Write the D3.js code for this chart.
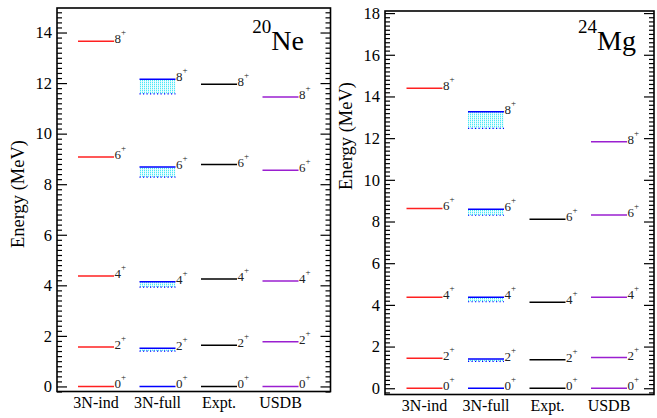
<!DOCTYPE html>
<html><head><meta charset="utf-8">
<script src="https://cdn.jsdelivr.net/npm/d3@7"></script>
<style>body{margin:0;background:#fff}</style>
</head><body><svg id="c" width="657" height="418" style="font-family:'Liberation Serif',serif"></svg>
<script>
// ---- data ----
const models = ["3N-ind", "3N-full", "Expt.", "USDB"];
const spins = ["0", "2", "4", "6", "8"];
const neInd    = [0, 1.56, 4.37, 9.08, 13.65];
const neFullHi = [0, 1.51, 4.14, 8.68, 12.15];
const neFullLo = [0, 1.40, 3.93, 8.28, 11.57];
const neExpt   = [0, 1.634, 4.248, 8.777, 11.951];
const neUsdb   = [0, 1.77, 4.17, 8.55, 11.45];
const mgInd    = [0, 1.44, 4.36, 8.63, 14.39];
const mgFullHi = [0, 1.40, 4.36, 8.59, 13.27];
const mgFullLo = [0, 1.29, 4.15, 8.30, 12.47];
const mgExpt   = [0, 1.369, 4.123, 8.113];
const mgUsdb   = [0, 1.47, 4.36, 8.31, 11.83];
const neTicks = [0, 2, 4, 6, 8, 10, 12, 14];
const mgTicks = [0, 2, 4, 6, 8, 10, 12, 14, 16, 18];

const FF = "'Liberation Serif', 'DejaVu Serif', serif";
const svg = d3.select("#c");
const defs = svg.append("defs");
const pat = defs.append("pattern").attr("id", "hatch").attr("patternUnits", "userSpaceOnUse")
  .attr("width", 2).attr("height", 2);
pat.append("rect").attr("width", 2).attr("height", 2).attr("fill", "#f0feff");
pat.append("rect").attr("x", 0).attr("y", 0).attr("width", 1).attr("height", 1.3).attr("fill", "#4ae8f6");

const colors = {"3N-ind": "#ff2020", "3N-full": "#0000ff", "Expt.": "#000000", "USDB": "#9a1fd0"};

function panel(opt) {
  const g = svg.append("g");
  const y = d3.scaleLinear().domain(opt.ydom).range([opt.bottom, opt.top]);
  const x = d3.scalePoint().domain(models).range([opt.left + opt.c0, opt.left + opt.c0 + 184.5]);
  const hw = 18;

  const minor = d3.range(Math.ceil(opt.ydom[0] / 0.2) * 0.2, opt.ydom[1] + 1e-6, 0.2)
    .filter(v => Math.abs(v / 2 - Math.round(v / 2)) > 1e-6);
  g.append("g").attr("transform", `translate(${opt.left},0)`)
    .call(d3.axisLeft(y).tickValues(minor).tickSize(-5).tickFormat(""))
    .call(a => a.select(".domain").remove());
  g.append("g").attr("transform", `translate(${opt.right},0)`)
    .call(d3.axisRight(y).tickValues(minor).tickSize(-5).tickFormat(""))
    .call(a => a.select(".domain").remove());
  g.append("g").attr("transform", `translate(${opt.left},0)`)
    .call(d3.axisLeft(y).tickValues(opt.ticks).tickSize(-10).tickPadding(5).tickFormat(d3.format("d")))
    .call(a => a.select(".domain").remove())
    .call(a => a.selectAll("text").style("font-size", "16.5px").attr("fill", "#000")
      .style("font-family", FF));
  g.append("g").attr("transform", `translate(${opt.right},0)`)
    .call(d3.axisRight(y).tickValues(opt.ticks).tickSize(-10).tickFormat(""))
    .call(a => a.select(".domain").remove());
  g.selectAll(".tick line").attr("stroke", "#000").attr("stroke-width", 1.2);

  g.append("rect").attr("x", opt.left).attr("y", opt.top).attr("width", opt.right - opt.left)
    .attr("height", opt.bottom - opt.top).attr("fill", "none").attr("stroke", "#000").attr("stroke-width", 1.6);

  g.selectAll(".xl").data(models).join("text").attr("class", "xl")
    .attr("x", d => x(d)).attr("y", opt.xlabY).attr("text-anchor", "middle")
    .style("font-family", FF).style("font-size", "16px").text(d => d);

  g.append("text").attr("transform", `translate(${opt.ylabX},${opt.ylabY}) rotate(-90)`)
    .attr("text-anchor", "middle").style("font-family", FF).style("font-size", "18.5px").text("Energy (MeV)");

  const t = g.append("text").attr("x", opt.titleX).attr("y", 50).attr("text-anchor", "end")
    .style("font-family", FF);
  t.append("tspan").style("font-size", "19px").attr("dy", -17).text(opt.mass);
  t.append("tspan").style("font-size", "28px").attr("dy", 17).text(opt.elem);

  opt.fullHi.forEach((hi, i) => {
    const lo = opt.fullLo[i];
    if (hi - lo > 0.001) {
      g.append("rect").attr("x", x("3N-full") - hw).attr("width", 2 * hw)
        .attr("y", y(hi)).attr("height", y(lo) - y(hi)).attr("fill", "url(#hatch)");
      g.append("line").attr("x1", x("3N-full") - hw).attr("x2", x("3N-full") + hw)
        .attr("y1", y(lo)).attr("y2", y(lo)).attr("stroke", "#0000ff").attr("stroke-width", 1.2)
        .attr("stroke-dasharray", "1.2,2.3");
    }
  });

  const sets = [["3N-ind", opt.ind], ["3N-full", opt.fullHi], ["Expt.", opt.expt], ["USDB", opt.usdb]];
  sets.forEach(([m, vals]) => {
    vals.forEach((v, i) => {
      const xc = x(m), yy = y(v);
      g.append("line").attr("x1", xc - hw).attr("x2", xc + hw).attr("y1", yy).attr("y2", yy)
        .attr("stroke", colors[m]).attr("stroke-width", 1.5);
      const lab = g.append("text").attr("x", xc + hw + 0.5).attr("y", yy + 2)
        .style("font-family", FF).style("font-size", "13px").attr("fill", "#222");
      lab.append("tspan").text(spins[i]);
      lab.append("tspan").style("font-size", "9px").attr("dy", -8).text("+");
    });
  });
}

panel({left: 57, right: 330.5, top: 8, bottom: 391.5, ydom: [-0.2, 14.97], ticks: neTicks, c0: 39,
  ind: neInd, fullHi: neFullHi, fullLo: neFullLo, expt: neExpt, usdb: neUsdb,
  xlabY: 408, ylabX: 24, ylabY: 194, titleX: 304, mass: "20", elem: "Ne"});
panel({left: 385, right: 654, top: 11, bottom: 394.5, ydom: [-0.3, 18.1], ticks: mgTicks, c0: 39.5,
  ind: mgInd, fullHi: mgFullHi, fullLo: mgFullLo, expt: mgExpt, usdb: mgUsdb,
  xlabY: 411, ylabX: 352, ylabY: 136, titleX: 636, mass: "24", elem: "Mg"});
</script></body></html>
